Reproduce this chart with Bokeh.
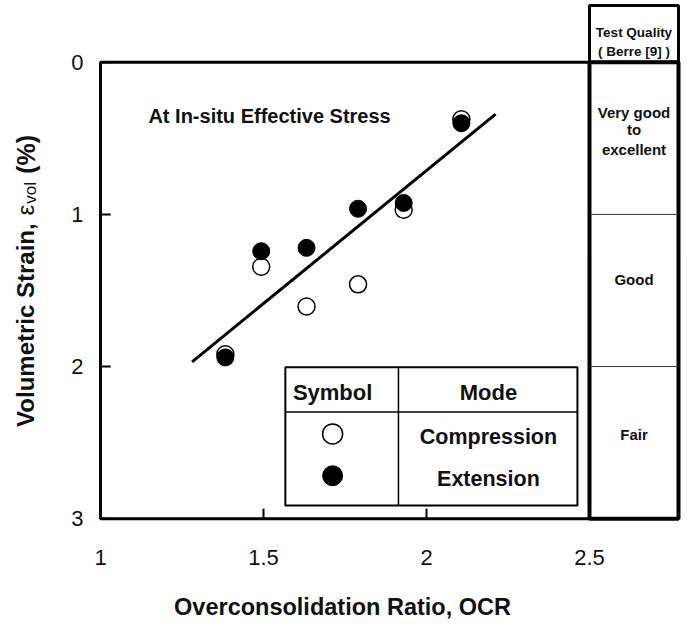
import math
from bokeh.plotting import figure
from bokeh.models import Range1d, FixedTicker, NumeralTickFormatter
from bokeh.core.properties import value
from bokeh.embed import file_html
from bokeh.resources import INLINE

# ---- data ----
ocr = [1.383, 1.493, 1.632, 1.790, 1.930, 2.107]
compression = [1.919, 1.344, 1.606, 1.460, 0.969, 0.375]
extension = [1.940, 1.242, 1.220, 0.963, 0.925, 0.401]
fit_ocr = [1.281, 2.212]
fit_strain = [1.969, 0.341]
x_ticks = [1, 1.5, 2, 2.5]
y_ticks = [0, 1, 2, 3]
y_tick_labels = ["0", "1", "2", "3"]
quality_bounds = [0, 1, 2, 3]
quality_labels = [["Very good", "to", "excellent"], ["Good"], ["Fair"]]
legend_headers = ["Symbol", "Mode"]
legend_modes = ["Compression", "Extension"]
title_text = "At In-situ Effective Stress"
quality_header = ["Test Quality", "( Berre [9] )"]
x_title = "Overconsolidation Ratio, OCR"
y_title_parts = ["Volumetric Strain,", "\u03b5", "vol", "(%)"]

FONT = "Liberation Sans"
INK = "#111111"

p = figure(width=684, height=622,
           x_range=Range1d(0.69325, 2.79141), y_range=Range1d(3.0779, -0.40602),
           output_backend="svg", toolbar_location=None,
           min_border_left=0, min_border_right=0, min_border_top=0, min_border_bottom=90)
p.outline_line_color = None
p.grid.visible = False
p.yaxis.visible = False

# x axis (below): tick labels and title
p.xaxis.ticker = FixedTicker(ticks=x_ticks)
p.xaxis.formatter = NumeralTickFormatter(format="0.[0]")
p.xaxis.axis_line_color = None
p.xaxis.major_tick_line_color = None
p.xaxis.minor_tick_line_color = None
p.xaxis.major_label_text_font = FONT
p.xaxis.major_label_text_font_size = "22px"
p.xaxis.major_label_text_color = INK
p.xaxis.major_label_standoff = 13
p.xaxis.axis_label = x_title
p.xaxis.axis_label_text_font = FONT
p.xaxis.axis_label_text_font_style = "bold"
p.xaxis.axis_label_text_font_size = "23.5px"
p.xaxis.axis_label_text_color = INK
p.xaxis.axis_label_standoff = 26

x0, x1 = x_ticks[0], x_ticks[-1]
y0, y1 = y_ticks[0], y_ticks[-1]

# inward tick marks on the frame
p.segment(x0=x_ticks, x1=x_ticks, y0=[y1] * len(x_ticks), y1=[y1 - 0.066] * len(x_ticks),
          line_color="black", line_width=2)
p.segment(x0=[x0] * len(y_ticks), x1=[x0 + 0.031] * len(y_ticks), y0=y_ticks, y1=y_ticks,
          line_color="black", line_width=2)
p.text(x=[x0 - 0.052] * len(y_ticks), y=y_ticks, text=y_tick_labels, text_font=value(FONT),
       text_font_size="22px", text_align="right", text_baseline="middle", text_color=INK)

# y title pieces, rotated
lab_x = 0.770
p.text(x=[lab_x], y=[2.397], text=[y_title_parts[0]], angle=math.pi / 2, text_font=value(FONT),
       text_font_style="bold", text_font_size="24px", text_align="left",
       text_baseline="middle", text_color=INK)
p.text(x=[lab_x], y=[1.008], text=[y_title_parts[1]], angle=math.pi / 2, text_font=value(FONT),
       text_font_size="24px", text_align="left", text_baseline="middle", text_color=INK)
p.text(x=[lab_x + 0.015], y=[0.930], text=[y_title_parts[2]], angle=math.pi / 2,
       text_font=value(FONT), text_font_size="17px", text_align="left",
       text_baseline="middle", text_color=INK)
p.text(x=[lab_x], y=[0.733], text=[y_title_parts[3]], angle=math.pi / 2, text_font=value(FONT),
       text_font_style="bold", text_font_size="25px", text_align="left",
       text_baseline="middle", text_color=INK)

# main frame
p.quad(left=[x0], right=[x1], top=[y0], bottom=[y1],
       fill_color=None, line_color="black", line_width=3)

# right quality column
col_right = 2.773
p.quad(left=[x1], right=[col_right], top=[y0], bottom=[y1],
       fill_color=None, line_color="black", line_width=4)
p.quad(left=[x1], right=[col_right], top=[-0.373], bottom=[y0],
       fill_color=None, line_color="black", line_width=3)
p.segment(x0=[x1] * 2, x1=[col_right] * 2, y0=quality_bounds[1:3], y1=quality_bounds[1:3],
          line_color="#333333", line_width=1)
col_cx = (x1 + col_right) / 2
p.text(x=[col_cx, col_cx], y=[-0.196, -0.072], text=quality_header,
       text_font=value(FONT), text_font_style="bold", text_font_size="13.5px",
       text_align="center", text_baseline="middle", text_color=INK)
band_y = [[0.327, 0.445, 0.576], [1.428], [2.449]]
for lines, ys in zip(quality_labels, band_y):
    p.text(x=[col_cx] * len(lines), y=ys, text=lines,
           text_font=value(FONT), text_font_style="bold", text_font_size="15px",
           text_align="center", text_baseline="middle", text_color=INK)

# regression line
p.line(fit_ocr, fit_strain, line_color="black", line_width=3)

# data points
p.scatter(ocr, compression, size=17, marker="circle", fill_color="white",
          line_color="black", line_width=1.5)
p.scatter(ocr, extension, size=17, marker="circle", fill_color="black",
          line_color="black", line_width=1)

# annotation text
p.text(x=[1.147], y=[0.354], text=[title_text], text_font=value(FONT),
       text_font_style="bold", text_font_size="20px", text_align="left",
       text_baseline="middle", text_color=INK)

# legend table
lx0, lx1, lxm = 1.567, 2.463, 1.914
ly0, ly1, lym = 2.004, 2.914, 2.299
p.quad(left=[lx0], right=[lx1], top=[ly0], bottom=[ly1], fill_color="white",
       line_color="black", line_width=2)
p.segment(x0=[lxm, lx0], x1=[lxm, lx1], y0=[ly0, lym], y1=[ly1, lym],
          line_color="black", line_width=1.5)
p.text(x=[1.712, 2.190], y=[2.168, 2.168], text=legend_headers, text_font=value(FONT),
       text_font_style="bold", text_font_size="22px", text_align="center",
       text_baseline="middle", text_color=INK)
p.text(x=[2.190, 2.190], y=[2.462, 2.737], text=legend_modes, text_font=value(FONT),
       text_font_style="bold", text_font_size="21.5px", text_align="center",
       text_baseline="middle", text_color=INK)
p.scatter([1.712], [2.443], size=20, marker="circle", fill_color="white",
          line_color="black", line_width=1.5)
p.scatter([1.712], [2.718], size=20, marker="circle", fill_color="black",
          line_color="black")

open("out.html", "w").write(file_html(p, INLINE))
